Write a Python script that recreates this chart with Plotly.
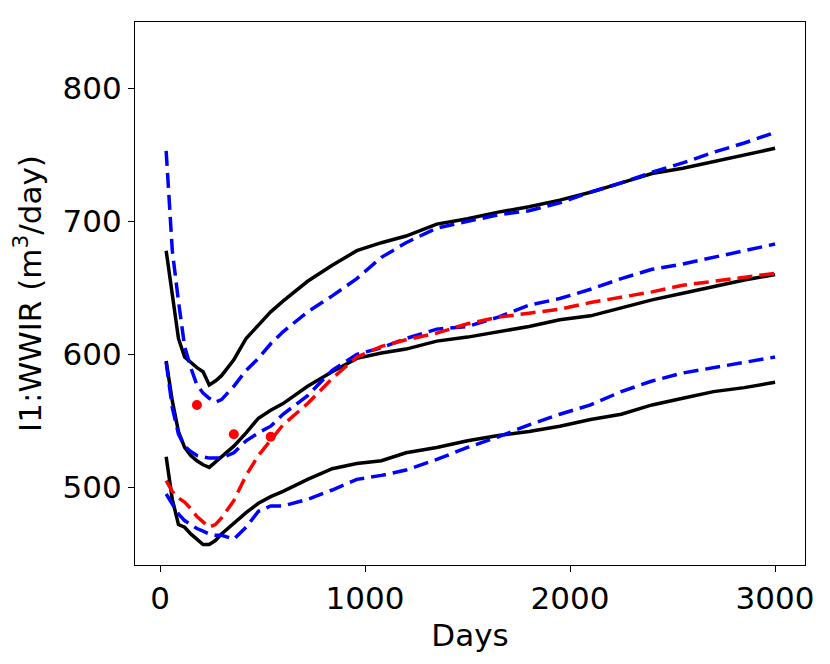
import plotly.graph_objects as go

# time axis of the simulation output (days)
days = [30, 60, 90, 120, 150, 180, 210, 240, 270, 300, 360, 420, 480, 540, 600,
        720, 840, 960, 1080, 1200, 1350, 1500, 1650, 1800, 1950, 2100, 2250,
        2400, 2550, 2700, 2850, 3000]

# upper pair
upper_black = [678, 645, 612, 598, 594, 590, 587, 577, 580, 584, 596, 612, 622,
               632, 640, 655, 667, 678, 684, 689, 698, 702, 707, 711, 716, 722,
               729, 736, 740, 745, 750, 755]
upper_blue = [753, 678, 640, 606, 590, 577, 571, 567, 564, 566, 576, 588, 597,
              608, 617, 632, 644, 657, 673, 684, 695, 700, 705, 708, 714, 722,
              729, 737, 744, 752, 759, 767]

# middle pair + red
middle_black = [595, 565, 542, 530, 524, 520, 517, 515, 519, 523, 531, 541, 552,
                558, 563, 576, 587, 597, 601, 604, 610, 613, 617, 621, 626, 629,
                635, 641, 646, 651, 656, 660]
middle_blue = [594, 560, 540, 531, 527, 524, 523, 522, 522, 522, 526, 535, 541,
               546, 555, 569, 588, 600, 605, 612, 619, 621, 628, 637, 642, 649,
               657, 664, 668, 673, 678, 683]
red_curve = [505, 497, 492, 489, 484, 478, 474, 470, 472, 477, 490, 509, 524,
             535, 547, 563, 582, 598, 606, 611, 616, 623, 628, 631, 634, 639,
             643, 647, 652, 655, 658, 661]

# lower pair
lower_black = [523, 491, 472, 470, 465, 461, 457, 457, 460, 465, 473, 481, 488,
               493, 497, 506, 514, 518, 520, 526, 530, 535, 539, 542, 546, 551,
               555, 562, 567, 572, 575, 579]
lower_blue = [495, 487, 480, 475, 472, 469, 467, 465, 464, 464, 461, 470, 482,
              486, 486, 491, 498, 506, 509, 513, 521, 530, 538, 547, 555, 562,
              572, 580, 586, 590, 594, 598]

# observed points
obs_days = [180, 360, 540]
obs_rate = [562, 540, 538]

fig = go.Figure()

solid = dict(color="black", width=3.5)
dashed_blue = dict(color="#0000ff", width=3.5, dash="15px,7px")

for ys in [upper_black, middle_black, lower_black]:
    fig.add_trace(go.Scatter(x=days, y=ys, mode="lines", line=solid))
for ys in [upper_blue, middle_blue, lower_blue]:
    fig.add_trace(go.Scatter(x=days, y=ys, mode="lines", line=dashed_blue))
fig.add_trace(go.Scatter(x=days, y=red_curve, mode="lines",
                         line=dict(color="#ff0000", width=3.5, dash="15px,7px")))
fig.add_trace(go.Scatter(x=obs_days, y=obs_rate, mode="markers",
                         marker=dict(color="#ff0000", size=10)))

font = dict(family="DejaVu Sans", size=31, color="black")
axis_style = dict(showline=True, linecolor="black", linewidth=1.3, mirror=True,
                  ticks="outside", ticklen=6, tickwidth=1.3, tickcolor="black",
                  showgrid=False, zeroline=False, tickfont=font)

fig.update_xaxes(range=[-122, 3146], tickvals=[0, 1000, 2000, 3000],
                 title=dict(text="Days", standoff=8, font=font),
                 **axis_style)
fig.update_yaxes(range=[441.6, 850], tickvals=[500, 600, 700, 800],
                 title=dict(text="I1:WWIR (m<sup>3</sup>/day)", standoff=14, font=font),
                 **axis_style)

# page body adds an 8px offset, so the figure is a bit smaller than the window
fig.update_layout(width=822, height=656, showlegend=False,
                  paper_bgcolor="white", plot_bgcolor="white",
                  margin=dict(l=127, r=25, t=14, b=99))

fig.write_html("out.html")
